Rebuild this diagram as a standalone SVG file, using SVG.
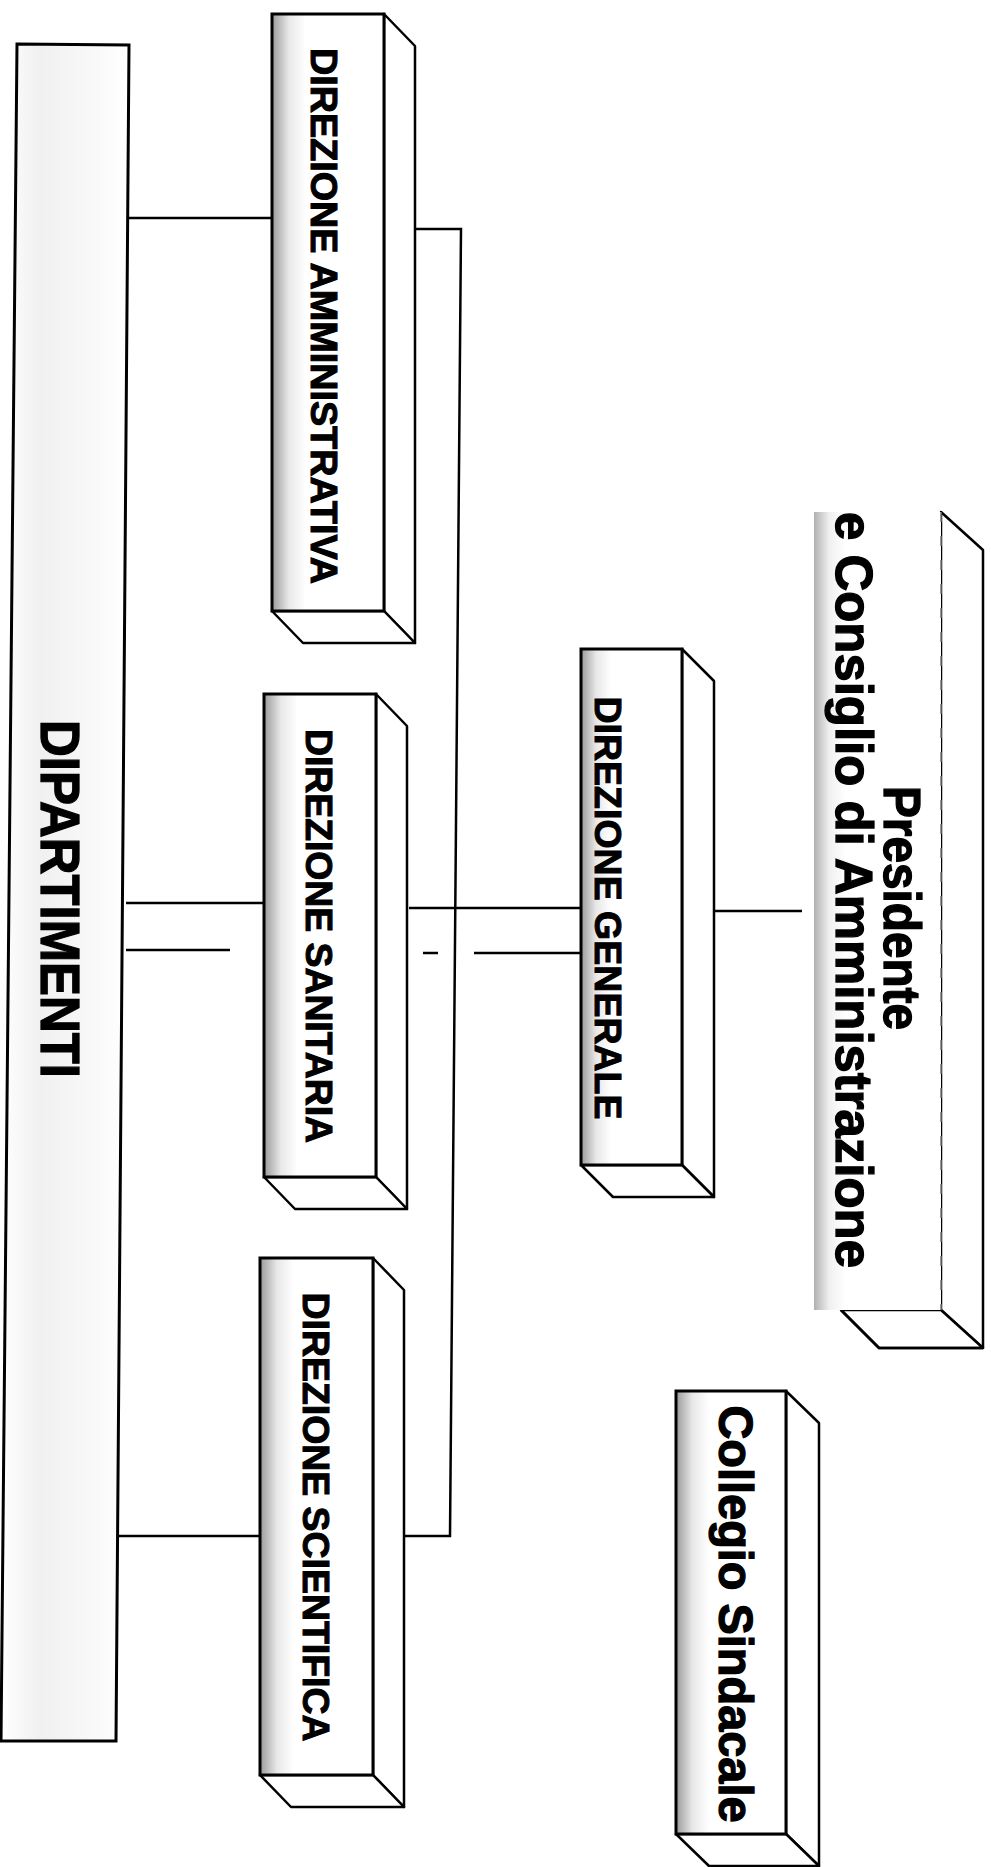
<svg xmlns="http://www.w3.org/2000/svg" width="991" height="1867" viewBox="0 0 991 1867">
<defs>
<linearGradient id="shade" x1="0" y1="0" x2="1" y2="0">
<stop offset="0" stop-color="#9a9a9a"/>
<stop offset="0.15" stop-color="#e8e8e8"/>
<stop offset="0.3" stop-color="#ffffff"/>
</linearGradient>
<linearGradient id="shadePres" x1="0" y1="0" x2="1" y2="0">
<stop offset="0" stop-color="#b0b0b0"/>
<stop offset="0.12" stop-color="#f0f0f0"/>
<stop offset="0.25" stop-color="#ffffff"/>
</linearGradient>
<linearGradient id="shadeDip" x1="0" y1="0" x2="1" y2="0">
<stop offset="0" stop-color="#ffffff"/>
<stop offset="0.3" stop-color="#f0f0f0"/>
<stop offset="0.6" stop-color="#f6f6f6"/>
<stop offset="1" stop-color="#ffffff"/>
</linearGradient>
</defs>
<style>
.front{fill:url(#shade);stroke:#000;stroke-width:3}
.face{fill:#fff;stroke:#000;stroke-width:2.5;stroke-linejoin:round}
.lbl{font-family:"Liberation Sans",Arial,sans-serif;font-weight:bold;fill:#000;stroke:#000;stroke-width:1;text-anchor:middle}
.big{stroke-width:1.3}
.con{stroke:#000;stroke-width:2.5;fill:none}
</style>
<rect width="991" height="1867" fill="#fff"/>

<g id="connectors">
<line class="con" x1="129" y1="218" x2="272" y2="218"/>
<polyline class="con" points="414,229 461,229 450,1536 405,1536"/>
<line class="con" x1="126" y1="903" x2="264" y2="903"/>
<line class="con" x1="126" y1="950" x2="230" y2="950"/>
<line class="con" x1="423" y1="953" x2="438" y2="953"/>
<line class="con" x1="474" y1="953" x2="581" y2="953"/>
<line class="con" x1="409" y1="908" x2="581" y2="908"/>
<line class="con" x1="715" y1="911" x2="802" y2="911"/>
<line class="con" x1="117" y1="1536" x2="260" y2="1536"/>
</g>

<g id="dipartimenti">
<polygon points="17,44 129,45 116,1741 1,1741" fill="url(#shadeDip)" stroke="#000" stroke-width="3"/>
<text class="lbl big" font-size="56" transform="translate(41,899) rotate(90)" textLength="358" lengthAdjust="spacingAndGlyphs">DIPARTIMENTI</text>
</g>

<g id="dir-amministrativa">
<polygon class="face" points="384,14 415,46 415,643 384,611"/>
<polygon class="face" points="272,611 384,611 415,643 303,643"/>
<rect class="front" x="272" y="14" width="112" height="597"/>
<text class="lbl" font-size="36" transform="translate(311,316) rotate(90)" textLength="536" lengthAdjust="spacingAndGlyphs">DIREZIONE AMMINISTRATIVA</text>
</g>

<g id="dir-sanitaria">
<polygon class="face" points="376,694 407,726 407,1209 376,1177"/>
<polygon class="face" points="264,1177 376,1177 407,1209 295,1209"/>
<rect class="front" x="264" y="694" width="112" height="483"/>
<text class="lbl" font-size="36" transform="translate(306,936) rotate(90)" textLength="414" lengthAdjust="spacingAndGlyphs">DIREZIONE SANITARIA</text>
</g>

<g id="dir-scientifica">
<polygon class="face" points="373,1258 404,1290 404,1807 373,1775"/>
<polygon class="face" points="260,1775 373,1775 404,1807 291,1807"/>
<rect class="front" x="260" y="1258" width="113" height="517"/>
<text class="lbl" font-size="36" transform="translate(303,1517) rotate(90)" textLength="449" lengthAdjust="spacingAndGlyphs">DIREZIONE SCIENTIFICA</text>
</g>

<g id="dir-generale">
<polygon class="face" points="682,649 714,681 714,1197 682,1165"/>
<polygon class="face" points="581,1165 682,1165 714,1197 613,1197"/>
<rect class="front" x="581" y="649" width="101" height="516"/>
<text class="lbl" font-size="36" transform="translate(595,908) rotate(90)" textLength="423" lengthAdjust="spacingAndGlyphs">DIREZIONE GENERALE</text>
</g>

<g id="presidente">
<polygon class="face" points="941,512 983,550 983,1348 941,1310"/>
<polygon class="face" points="841,1310 941,1310 983,1348 879,1348" stroke="none"/>
<polyline class="con" points="841,1310 879,1348 983,1348"/>
<rect x="814" y="512" width="127" height="798" fill="url(#shadePres)" stroke="none"/>
<line x1="941" y1="512" x2="941" y2="1310" stroke="#777" stroke-width="1.5" stroke-dasharray="10,14"/>
<text class="lbl big" font-size="52" transform="translate(884,908) rotate(90)" textLength="244" lengthAdjust="spacingAndGlyphs">Presidente</text>
<text class="lbl big" font-size="52" transform="translate(836,890) rotate(90)" textLength="756" lengthAdjust="spacingAndGlyphs">e Consiglio di Amministrazione</text>
</g>

<g id="collegio-sindacale">
<polygon class="face" points="786,1391 819,1423 819,1866 786,1834"/>
<polygon class="face" points="676,1834 786,1834 819,1866 709,1866"/>
<rect class="front" x="676" y="1391" width="110" height="443"/>
<text class="lbl big" font-size="48" transform="translate(719,1614) rotate(90)" textLength="417" lengthAdjust="spacingAndGlyphs">Collegio Sindacale</text>
</g>
</svg>
